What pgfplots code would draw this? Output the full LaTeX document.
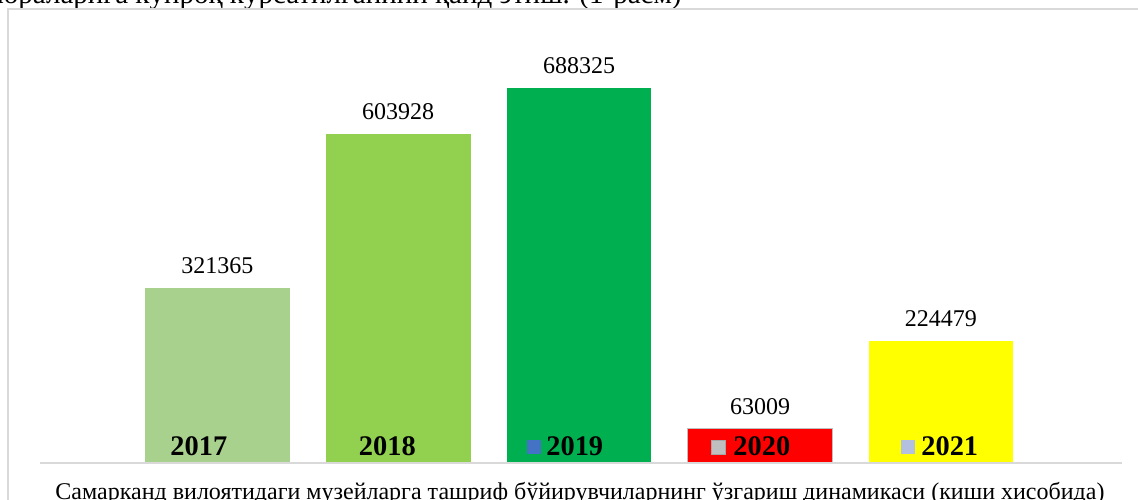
\documentclass[border=0pt]{standalone}
\usepackage{pgfplots}
\pgfplotsset{compat=1.18}
\usepackage{fontspec}
\setmainfont{Liberation Serif}
\definecolor{c17}{HTML}{A9D18E}
\definecolor{c18}{HTML}{92D050}
\definecolor{c19}{HTML}{00B050}
\definecolor{c20}{HTML}{FF0000}
\definecolor{c21}{HTML}{FFFF00}
\definecolor{frameg}{HTML}{D9D9D9}
\definecolor{k19}{HTML}{4472C4}
\definecolor{k20}{HTML}{BFBFBF}
\definecolor{k20b}{HTML}{A6A6A6}
\definecolor{k21}{HTML}{B4C0E0}
\begin{document}
\begin{tikzpicture}
\path[use as bounding box, clip] (0pt,0pt) rectangle (569pt,249.5pt);
\node[anchor=base east, inner sep=0, font=\fontsize{14.5}{16}\selectfont] at (341pt,247.5pt) {ишларни ташкил этиш чораларига кўпроқ кўрсатилганини қайд этиш. (1-расм)};
\draw[color=frameg, line width=1pt] (4pt,245pt) rectangle (600pt,-20pt);
\begin{axis}[
  at={(20pt,18pt)}, anchor=south west,
  scale only axis, width=540pt, height=187.5pt,
  xmin=-0.98, xmax=4.99, ymin=0, ymax=688325,
  enlargelimits=false, hide axis, clip=false,
  ybar, bar width=0.8, bar shift=0pt,
  point meta=explicit symbolic,
  nodes near coords,
  every node near coord/.append style={anchor=center, yshift=11pt, font=\fontsize{12}{14}\selectfont, text=black},
]
\addplot[fill=c17, draw=none] coordinates {(0,321365) [321365]};
\addplot[fill=c18, draw=none] coordinates {(1,603928) [603928]};
\addplot[fill=c19, draw=none] coordinates {(2,688325) [688325]};
\addplot[fill=c20, draw=k20, line width=0.75pt] coordinates {(3,63009) [63009]};
\addplot[fill=c21, draw=none] coordinates {(4,224479) [224479]};
\draw[color=frameg, line width=0.8pt] (axis cs:-0.98,0) -- (axis cs:5.0,0);
\node[font=\bfseries\fontsize{14.2}{16}\selectfont, inner sep=0, yshift=8.5pt] (t17) at (axis cs:-0.102,0) {2017};
\node[font=\bfseries\fontsize{14.2}{16}\selectfont, inner sep=0, yshift=8.5pt] (t18) at (axis cs:0.940,0) {2018};
\node[font=\bfseries\fontsize{14.2}{16}\selectfont, inner sep=0, yshift=8.5pt] (t19) at (axis cs:1.976,0) {2019};
\node[font=\bfseries\fontsize{14.2}{16}\selectfont, inner sep=0, yshift=8.5pt] (t20) at (axis cs:3.010,0) {2020};
\node[font=\bfseries\fontsize{14.2}{16}\selectfont, inner sep=0, yshift=8.5pt] (t21) at (axis cs:4.049,0) {2021};
\node[fill=k19, minimum size=7pt, inner sep=0, anchor=east] at ([xshift=-2.5pt,yshift=-0.5pt]t19.west) {};
\node[fill=k20, draw=k20b, line width=0.4pt, minimum size=7pt, inner sep=0, anchor=east] at ([xshift=-3.5pt,yshift=-0.5pt]t20.west) {};
\node[fill=k21, minimum size=7pt, inner sep=0, anchor=east] at ([xshift=-3pt,yshift=-0.5pt]t21.west) {};
\end{axis}
\node[anchor=base, inner sep=0, font=\fontsize{12}{14}\selectfont] at (290pt,0pt) {Самарканд вилоятидаги музейларга ташриф бўйирувчиларнинг ўзгариш динамикаси (киши хисобида)};
\end{tikzpicture}
\end{document}
